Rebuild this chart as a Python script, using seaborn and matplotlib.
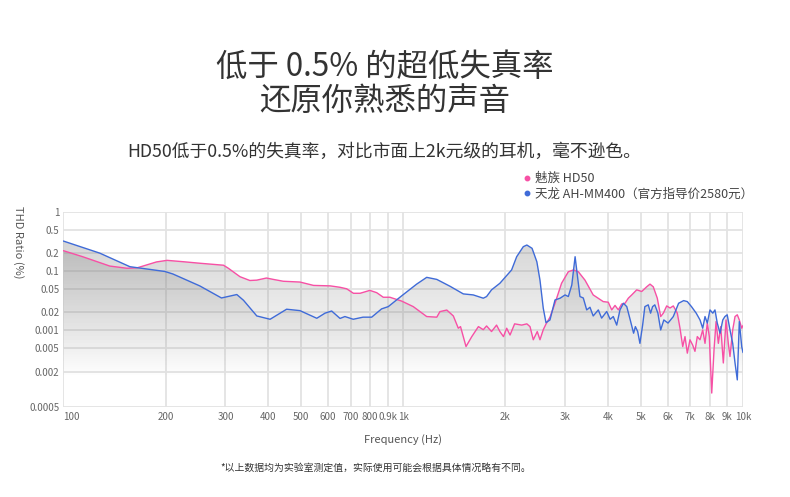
import numpy as np
import pandas as pd
import matplotlib
matplotlib.use("Agg")
import matplotlib.pyplot as plt
from matplotlib.lines import Line2D
import seaborn as sns

# ---------------- data ----------------
hd50_freq = [100, 114, 137, 154, 165, 188, 202, 226, 252, 296, 306, 331, 354, 371, 396, 415, 444,
             497, 545, 610, 652, 682, 714, 747, 798, 836, 874, 914, 990, 1071, 1173, 1256, 1283,
             1344, 1405, 1453, 1475, 1531, 1592, 1665, 1721, 1760, 1820, 1883, 1926, 1973, 2017,
             2063, 2128, 2233, 2312, 2362, 2415, 2481, 2527, 2584, 2632, 2704, 2798, 2925, 3062,
             3170, 3277, 3428, 3624, 3879, 4014, 4109, 4202, 4297, 4396, 4496, 4598, 4705, 4867,
             5034, 5207, 5325, 5445, 5595, 5725, 5829, 5964, 6099, 6236, 6408, 6526, 6647, 6751,
             6857, 6982, 7112, 7222, 7337, 7473, 7611, 7731, 7852, 7960, 8091, 8218, 8331, 8461,
             8600, 8752, 8913, 9052, 9157, 9326, 9474, 9621, 9753, 9913, 10000]
hd50_thd = [0.22, 0.174, 0.121, 0.111, 0.113, 0.142, 0.151, 0.143, 0.135, 0.125, 0.111, 0.080,
            0.069, 0.070, 0.076, 0.072, 0.067, 0.065, 0.057, 0.056, 0.053, 0.050, 0.042, 0.042,
            0.047, 0.043, 0.036, 0.036, 0.031, 0.025, 0.017, 0.0166, 0.0206, 0.0219, 0.0174,
            0.0108, 0.0115, 0.0053, 0.0078, 0.0115, 0.0102, 0.0118, 0.0095, 0.0122, 0.0095,
            0.0078, 0.0108, 0.0083, 0.0128, 0.0122, 0.0128, 0.0115, 0.0069, 0.0095, 0.0069,
            0.0102, 0.0127, 0.0166, 0.0285, 0.062, 0.097, 0.104, 0.097, 0.070, 0.0394, 0.0304,
            0.0297, 0.022, 0.0262, 0.022, 0.0277, 0.0285, 0.0347, 0.0394, 0.048, 0.045, 0.054,
            0.060, 0.054, 0.0347, 0.017, 0.0194, 0.0257, 0.0237, 0.0257, 0.0194, 0.0108, 0.0053,
            0.0078, 0.0041, 0.0069, 0.0056, 0.0044, 0.0078, 0.0069, 0.0101, 0.006, 0.0132,
            0.0078, 0.00087, 0.0047, 0.014, 0.006, 0.0115, 0.0028, 0.0149, 0.006, 0.0036,
            0.0101, 0.017, 0.0182, 0.0149, 0.0108, 0.012]

denon_freq = [100, 128, 157, 176, 199, 210, 252, 292, 324, 339, 371, 406, 454, 497, 557, 589,
              616, 652, 674, 713, 762, 808, 864, 904, 990, 1096, 1173, 1256, 1375, 1503, 1608,
              1721, 1760, 1820, 1926, 2085, 2158, 2257, 2312, 2395, 2474, 2527, 2584, 2632,
              2704, 2798, 2897, 2995, 3062, 3135, 3206, 3241, 3313, 3389, 3468, 3546, 3624,
              3752, 3837, 3972, 4064, 4153, 4250, 4345, 4448, 4550, 4658, 4765, 4823, 4899,
              4974, 5066, 5143, 5262, 5347, 5419, 5502, 5618, 5725, 5848, 6017, 6236, 6464,
              6689, 6857, 7054, 7283, 7473, 7611, 7731, 7852, 7996, 8150, 8270, 8400, 8560,
              8720, 8846, 8985, 9157, 9326, 9474, 9621, 9753, 9913, 10000]
denon_thd = [0.32, 0.20, 0.118, 0.108, 0.098, 0.089, 0.056, 0.035, 0.040, 0.032, 0.0174, 0.0153,
             0.0226, 0.0214, 0.0159, 0.0194, 0.0211, 0.0158, 0.017, 0.0153, 0.0166, 0.0166,
             0.0229, 0.025, 0.038, 0.060, 0.078, 0.072, 0.055, 0.041, 0.0394, 0.0347, 0.037,
             0.048, 0.062, 0.104, 0.174, 0.257, 0.274, 0.241, 0.143, 0.070, 0.0235, 0.0134,
             0.0149, 0.0324, 0.0347, 0.0394, 0.037, 0.058, 0.174, 0.104, 0.037, 0.035, 0.022,
             0.0244, 0.0174, 0.022, 0.016, 0.0207, 0.0153, 0.017, 0.0122, 0.022, 0.0285, 0.025,
             0.0149, 0.0089, 0.0115, 0.0095, 0.006, 0.0122, 0.025, 0.0268, 0.0194, 0.025,
             0.0268, 0.0194, 0.0101, 0.0149, 0.0132, 0.017, 0.0285, 0.0316, 0.0304, 0.025,
             0.0194, 0.0149, 0.0108, 0.017, 0.0132, 0.022, 0.0194, 0.022, 0.0132, 0.0089,
             0.0149, 0.017, 0.0182, 0.0101, 0.006, 0.0028, 0.00145, 0.014, 0.0053, 0.0042]

series_names = ["魅族 HD50", "天龙 AH-MM400（官方指导价2580元）"]
series_colors = ["#f750a5", "#3f6bd8"]

x_ticks = [100, 200, 300, 400, 500, 600, 700, 800, 900, 1000, 2000, 3000, 4000, 5000,
           6000, 7000, 8000, 9000, 10000]
x_tick_labels = ["100", "200", "300", "400", "500", "600", "700", "800", "0.9k", "1k", "2k",
                 "3k", "4k", "5k", "6k", "7k", "8k", "9k", "10k"]
y_ticks = [1, 0.5, 0.2, 0.1, 0.05, 0.02, 0.01, 0.005, 0.002, 0.0005]
y_tick_labels = ["1", "0.5", "0.2", "0.1", "0.05", "0.02", "0.001", "0.005", "0.002", "0.0005"]

title_lines = ["低于 0.5% 的超低失真率", "还原你熟悉的声音"]
subtitle = "HD50低于0.5%的失真率，对比市面上2k元级的耳机，毫不逊色。"
x_label = "Frequency (Hz)"
y_label = "THD Ratio (%)"
footnote = "*以上数据均为实验室测定值，实际使用可能会根据具体情况略有不同。"

# ---------------- style ----------------
sns.set_theme(style="white")
plt.rcParams["font.family"] = ["Noto Sans CJK SC", "DejaVu Sans"]

W, H = 790, 497
fig = plt.figure(figsize=(W / 100, H / 100), dpi=100)
fig.patch.set_facecolor("white")
x0, x1, ytop, ybot = 63.3, 743, 211.7, 407.3
ax = fig.add_axes([x0 / W, 1 - ybot / H, (x1 - x0) / W, (ybot - ytop) / H])

df = pd.concat([
    pd.DataFrame({"freq": hd50_freq, "thd": hd50_thd, "series": series_names[0]}),
    pd.DataFrame({"freq": denon_freq, "thd": denon_thd, "series": series_names[1]}),
])

ax.set_xscale("log")
ax.set_yscale("log")
ax.set_xlim(100, 10000)
ax.set_ylim(0.0005, 1)

# gradient fills under each curve
grad = np.zeros((256, 1, 4))
t = np.linspace(0, 1, 256)  # 0 top -> 1 bottom
alpha = 0.4 * np.clip((0.85 - t) / 0.85, 0, None) ** 1.1
grad[:, 0, 0] = 0.5
grad[:, 0, 1] = 0.5
grad[:, 0, 2] = 0.5
grad[:, 0, 3] = alpha
for name in series_names:
    sub = df[df["series"] == name]
    poly = ax.fill_between(sub["freq"], sub["thd"], 0.0005, facecolor="none", edgecolor="none")
    im = ax.imshow(grad, extent=[0, 1, 0, 1], transform=ax.transAxes, aspect="auto",
                   interpolation="bilinear", zorder=1)
    im.set_clip_path(poly.get_paths()[0], ax.transData)

sns.lineplot(data=df, x="freq", y="thd", hue="series", palette=series_colors,
             hue_order=series_names, linewidth=1.0, ax=ax, legend=False, zorder=3,
             estimator=None, sort=False)
ax.set_xlim(100, 10000)
ax.set_ylim(0.0005, 1)

# grid
for s in ax.spines.values():
    s.set_visible(False)
ax.set_xticks(x_ticks)
ax.set_xticklabels(x_tick_labels)
ax.set_xticks([], minor=True)
ax.set_yticks(y_ticks)
ax.set_yticklabels(y_tick_labels)
ax.set_yticks([], minor=True)
ax.grid(True, which="major", color="#e3e3e3", linewidth=1.3, zorder=0)
ax.set_axisbelow(True)
ax.tick_params(axis="both", length=0, labelsize=7, labelcolor="#666666")
ax.tick_params(axis="x", pad=3.5)
ax.tick_params(axis="y", pad=3)
lbls = ax.get_xticklabels()
lbls[0].set_horizontalalignment("left")
ax.set_xlabel("")
ax.set_ylabel("")

# texts
fig.text(18 / W, 1 - 206 / H, y_label, rotation=270, ha="center", va="top",
         fontsize=8, color="#555555")
fig.text(403 / W, 1 - 440 / H, x_label, ha="center", va="center", fontsize=8, color="#555555")
fig.text(385 / W, 1 - 67 / H, title_lines[0], ha="center", va="center", fontsize=22.6,
         color="#333333", fontweight="light")
fig.text(385 / W, 1 - 101 / H, title_lines[1], ha="center", va="center", fontsize=22.6,
         color="#333333", fontweight="light")
fig.text(384 / W, 1 - 152 / H, subtitle, ha="center", va="center", fontsize=12.8,
         color="#333333", fontweight="light")
fig.text(376 / W, 1 - 468 / H, footnote, ha="center", va="center", fontsize=7.1,
         color="#333333")

handles = [Line2D([], [], marker="o", linestyle="", color=c, markersize=3.2) for c in series_colors]
fig.legend(handles, series_names, loc="upper left", bbox_to_anchor=(521 / W, 1 - 172 / H),
           frameon=False, fontsize=9, handletextpad=0.1, labelspacing=0.2,
           handlelength=1.0, borderaxespad=0, borderpad=0, labelcolor="#444444")

fig.savefig("out.png", dpi=100, facecolor="white")
